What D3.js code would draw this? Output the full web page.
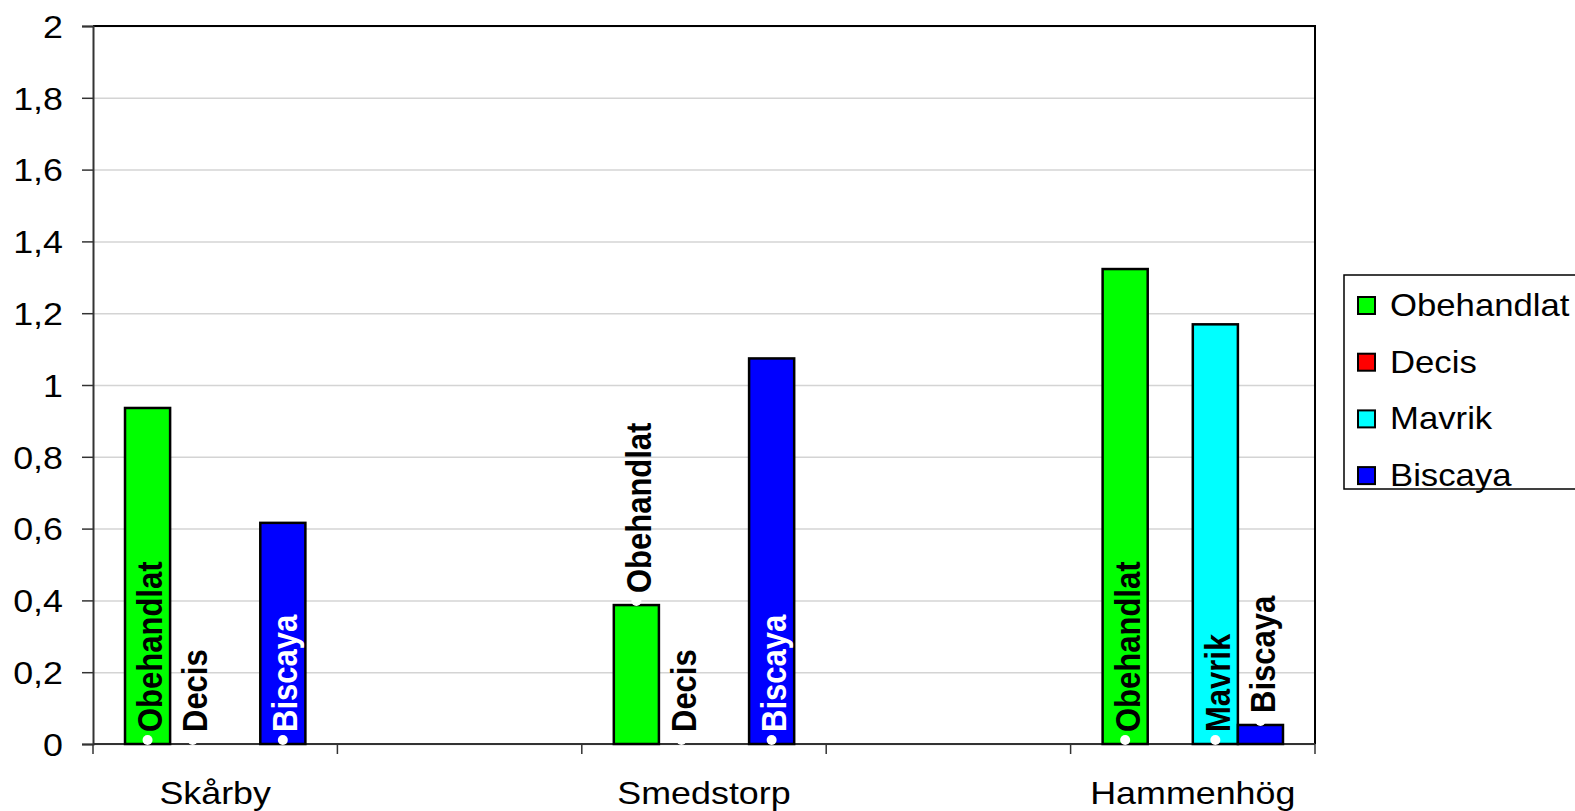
<!DOCTYPE html>
<html>
<head>
<meta charset="utf-8">
<script src="https://cdn.jsdelivr.net/npm/d3@7"></script>
<style>
  body { margin: 0; background: #fff; }
  svg { display: block; font-family: Arial, "Liberation Sans", sans-serif; }
</style>
</head>
<body>
<div id="chart"></div>
<script>
// chart data
var categories = ["Skårby", "", "Smedstorp", "", "Hammenhög"];
var seriesNames = ["Obehandlat", "Decis", "Mavrik", "Biscaya"];
var obehandlat = [0.936, null, 0.387, null, 1.323];
var decis = [0, null, 0, null, null];
var mavrik = [null, null, null, null, 1.169];
var biscaya = [0.616, null, 1.074, null, 0.053];
var yTicks = [0, 0.2, 0.4, 0.6, 0.8, 1, 1.2, 1.4, 1.6, 1.8, 2];
var colors = ["#00ff00", "#ff0000", "#00ffff", "#0000ff"];

var values = [obehandlat, decis, mavrik, biscaya];
var sx = 1.12; // horizontal text stretch of the original picture

var margin = { top: 26, left: 93 },
    width = 1222,
    height = 718;

var svg = d3.select("#chart")
    .append("svg")
    .attr("width", 1575)
    .attr("height", 811);

var g = svg.append("g")
    .attr("transform", "translate(" + margin.left + "," + margin.top + ")");

var x = d3.scaleBand()
    .domain(d3.range(categories.length))
    .range([0, width]);

var x1 = d3.scaleBand()
    .domain(seriesNames)
    .range([0, x.bandwidth()])
    .paddingOuter(0.71);

var y = d3.scaleLinear()
    .domain([0, 2])
    .range([height, 0]);

var fmt = function (d) { return String(d).replace(".", ","); };

// gridlines
g.append("g")
    .call(d3.axisLeft(y).tickValues(yTicks).tickSize(-width).tickFormat(""))
    .call(function (s) {
        s.select(".domain").remove();
        s.selectAll("line").attr("stroke", "#d4d4d4").attr("stroke-width", 1.5);
    });

// plot border top/right
g.append("path")
    .attr("d", "M0,0H" + width + "V" + height)
    .attr("fill", "none")
    .attr("stroke", "#000")
    .attr("stroke-width", 2);

// y axis
g.append("g")
    .call(d3.axisLeft(y).tickValues(yTicks).tickSize(11).tickFormat(fmt))
    .call(function (s) {
        s.select(".domain").attr("stroke", "#333").attr("stroke-width", 2);
        s.selectAll("line").attr("stroke", "#333").attr("stroke-width", 1.5);
        s.selectAll("text")
            .attr("x", 0)
            .attr("dy", "0.35em")
            .attr("transform", "translate(-30,0) scale(" + sx + ",1)")
            .attr("font-size", 32)
            .attr("font-family", "Arial, 'Liberation Sans', sans-serif")
            .attr("fill", "#000");
    });

// x axis line and ticks at category boundaries
g.append("line")
    .attr("x1", 0).attr("x2", width)
    .attr("y1", height).attr("y2", height)
    .attr("stroke", "#333").attr("stroke-width", 2);

g.selectAll(".xtick")
    .data(d3.range(categories.length + 1))
    .enter()
    .append("line")
    .attr("x1", function (i) { return i < categories.length ? x(i) : x(i - 1) + x.bandwidth(); })
    .attr("x2", function (i) { return i < categories.length ? x(i) : x(i - 1) + x.bandwidth(); })
    .attr("y1", height).attr("y2", height + 10)
    .attr("stroke", "#333").attr("stroke-width", 1.5);

g.selectAll(".xlabel")
    .data(categories)
    .enter()
    .append("text")
    .attr("transform", function (d, i) {
        return "translate(" + (x(i) + x.bandwidth() / 2) + "," + (height + 60) + ") scale(" + sx + ",1)";
    })
    .attr("text-anchor", "middle")
    .attr("font-size", 32)
    .text(function (d) { return d; });

// bars
var barData = [];
categories.forEach(function (c, i) {
    seriesNames.forEach(function (s, j) {
        if (values[j][i] !== null) {
            barData.push({ cat: i, name: s, value: values[j][i], color: colors[j] });
        }
    });
});

g.selectAll(".bar")
    .data(barData)
    .enter()
    .append("rect")
    .attr("x", function (d) { return x(d.cat) + x1(d.name); })
    .attr("y", function (d) { return y(d.value); })
    .attr("width", x1.bandwidth())
    .attr("height", function (d) { return height - y(d.value); })
    .attr("fill", function (d) { return d.color; })
    .attr("stroke", "#000")
    .attr("stroke-width", 2.5);

// data labels: inside at base for tall bars, above the bar for short ones
var labels = g.selectAll(".lbl")
    .data(barData)
    .enter()
    .append("g")
    .attr("transform", function (d) {
        var cx = x(d.cat) + x1(d.name) + x1.bandwidth() / 2;
        var ay = d.value >= 0.5 ? height : y(d.value);
        return "translate(" + cx + "," + ay + ")";
    });

labels.append("circle")
    .attr("cx", 0)
    .attr("cy", -4)
    .attr("r", 5)
    .attr("fill", "#fff");

labels.append("text")
    .attr("transform", "translate(14.5,-12) scale(" + sx + ",1) rotate(-90)")
    .attr("font-size", 31)
    .attr("font-weight", "bold")
    .attr("fill", function (d) { return (d.value >= 0.5 && d.name === "Biscaya") ? "#fff" : "#000"; })
    .text(function (d) { return d.name; });

// legend
var legend = svg.append("g").attr("transform", "translate(1344,275)");
legend.append("rect")
    .attr("width", 300).attr("height", 214)
    .attr("fill", "#fff")
    .attr("stroke", "#000").attr("stroke-width", 1.5);

var items = legend.selectAll(".item")
    .data(seriesNames)
    .enter()
    .append("g")
    .attr("transform", function (d, i) { return "translate(0," + (30 + i * 56.7) + ")"; });

items.append("rect")
    .attr("x", 14).attr("y", -8)
    .attr("width", 17).attr("height", 17)
    .attr("fill", function (d, i) { return colors[i]; })
    .attr("stroke", "#000").attr("stroke-width", 2);

items.append("text")
    .attr("transform", "translate(46,11) scale(" + sx + ",1)")
    .attr("font-size", 31)
    .text(function (d) { return d; });
</script>
</body>
</html>
